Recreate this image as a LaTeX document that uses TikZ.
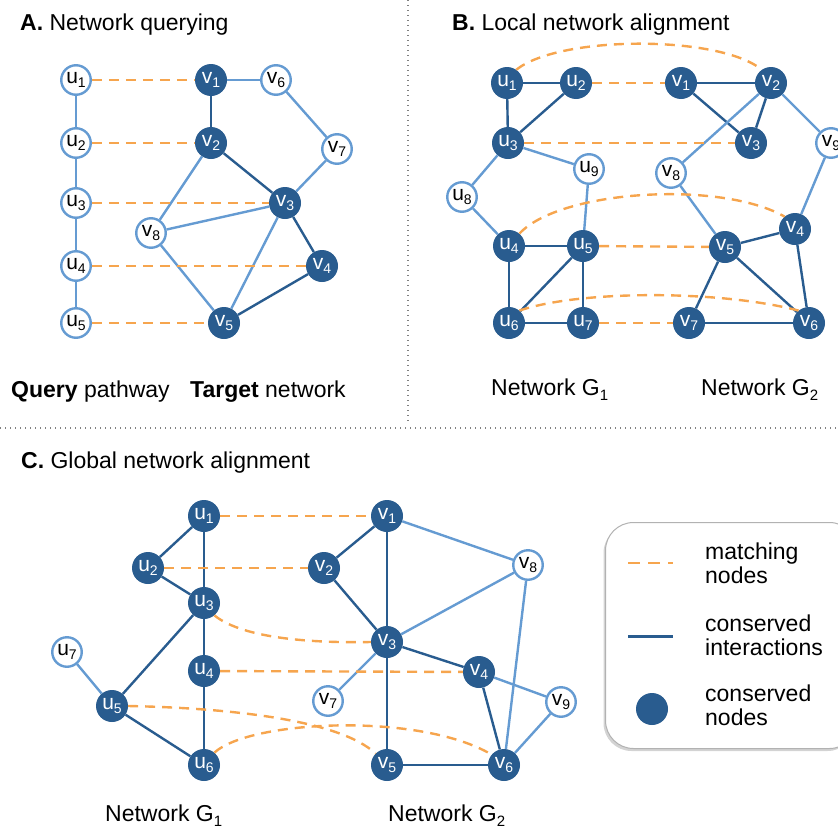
\documentclass[tikz,border=0pt]{standalone}
\usepackage{fontspec}
\setmainfont{Liberation Sans}
\usetikzlibrary{shadows}

\definecolor{dkblue}{HTML}{295C8F}
\definecolor{ltblue}{HTML}{659BD2}
\definecolor{orng}{HTML}{F6A54E}

\newcommand{\lbl}[2]{#1\raisebox{-4.5pt}{\fontsize{14}{14}\selectfont #2}}
\newcommand{\gsub}[1]{\raisebox{-5pt}{\fontsize{15}{15}\selectfont #1}}

\tikzset{
  cnode/.style={circle, fill=dkblue, minimum size=32pt, inner sep=0pt, text=white, font=\fontsize{21}{21}\selectfont},
  onode/.style={circle, fill=white, draw=ltblue, line width=2.4pt, minimum size=29.5pt, inner sep=0pt, text=black, font=\fontsize{21}{21}\selectfont},
  dk/.style={draw=dkblue, line width=2.4pt},
  lt/.style={draw=ltblue, line width=2.4pt},
  match/.style={draw=orng, line width=2.4pt, dash pattern=on 10pt off 7pt},
  sepline/.style={draw=gray, line width=1.2pt, dash pattern=on 1.2pt off 3.8pt},
  txt/.style={anchor=base west, inner sep=0pt, font=\fontsize{23}{25}\selectfont},
  legtxt/.style={anchor=west, align=left, inner sep=0pt, font=\fontsize{23}{24}\selectfont},
  legbox/.style={draw=gray!60, line width=1pt, rounded corners=28pt, fill=white,
    drop shadow={shadow xshift=-2pt, shadow yshift=-2.5pt, opacity=0.35}},
}

\begin{document}
\begin{tikzpicture}[x=1pt,y=-1pt]
\useasboundingbox (0,0) rectangle (838,830);
% ---- separators ----
\coordinate (sepT) at (408,0);
\coordinate (sepB) at (408,422);
\coordinate (sepL) at (0,428);
\coordinate (sepR) at (838,428);
\draw[sepline] (sepT) -- (sepB);
\draw[sepline] (sepL) -- (sepR);

% ---- A. network querying ----
\node[txt] (titA) at (20,30) {\textbf{A.} Network querying};
\foreach \l/\n/\x/\y in {v/1/211/80, v/2/211/143, v/3/285/203, v/4/322/266, v/5/224/323}
  \node[cnode] (a\l\n) at (\x,\y) {\lbl{\l}{\n}};
\foreach \l/\n/\x/\y in {u/1/76/80, u/2/76/143, u/3/76/203, u/4/76/266, u/5/76/323, v/6/276/80, v/7/337/149, v/8/151/233}
  \node[onode] (a\l\n) at (\x,\y) {\lbl{\l}{\n}};
\foreach \p/\q in {au1/au2, au2/au3, au3/au4, au4/au5, av1/av6, av6/av7, av7/av3, av2/av8, av8/av3, av8/av5, av3/av5}
  \draw[lt] (\p) -- (\q);
\foreach \p/\q in {av1/av2, av2/av3, av3/av4, av4/av5}
  \draw[dk] (\p) -- (\q);
\foreach \n in {1,...,5}
  \draw[match] (au\n) -- (av\n);
\node[txt] (qlab) at (11,397) {\textbf{Query} pathway};
\node[txt] (tlab) at (190,397) {\textbf{Target} network};

% ---- B. local network alignment ----
\node[txt] (titB) at (452,30) {\textbf{B.} Local network alignment};
\foreach \l/\n/\x/\y in {u/1/507/83, u/2/576/83, u/3/508/143, u/4/509/246, u/5/583/246, u/6/509/323, u/7/583/323,
    v/1/681/83, v/2/771/83, v/3/751/143, v/4/795/229, v/5/725/247, v/6/809/323, v/7/689/323}
  \node[cnode] (b\l\n) at (\x,\y) {\lbl{\l}{\n}};
\foreach \l/\n/\x/\y in {u/8/462/197, u/9/589/169, v/8/671/173, v/9/831/143}
  \node[onode] (b\l\n) at (\x,\y) {\lbl{\l}{\n}};
\foreach \p/\q in {bu1/bu2, bu1/bu3, bu2/bu3, bu4/bu5, bu4/bu6, bu5/bu6, bu5/bu7, bu6/bu7,
    bv1/bv2, bv1/bv3, bv2/bv3, bv5/bv4, bv5/bv7, bv5/bv6, bv4/bv6, bv7/bv6}
  \draw[dk] (\p) -- (\q);
\foreach \p/\q in {bu3/bu9, bu3/bu8, bu8/bu4, bu9/bu5, bv2/bv8, bv2/bv9, bv9/bv4, bv8/bv5}
  \draw[lt] (\p) -- (\q);
\foreach \p/\q in {bu2/bv1, bu3/bv3, bu5/bv5, bu7/bv7}
  \draw[match] (\p) -- (\q);
\draw[match] (bu1.55) .. controls (560,35) and (720,35) .. (bv2.125);
\draw[match] (bu4.50) .. controls (560,190) and (720,180) .. (bv4.130);
\draw[match] (bu6.50) .. controls (580,290) and (720,290) .. (bv6.130);
\node[txt] (bg1) at (491,395) {Network G\gsub{1}};
\node[txt] (bg2) at (701,395) {Network G\gsub{2}};

% ---- C. global network alignment ----
\node[txt] (titC) at (21,468) {\textbf{C.} Global network alignment};
\foreach \l/\n/\x/\y in {u/1/204/516, u/2/148/568, u/3/204/603, u/4/204/671, u/5/112/706, u/6/204/765,
    v/1/387/516, v/2/324/568, v/3/387/642, v/4/479/672, v/5/387/765, v/6/504/765}
  \node[cnode] (c\l\n) at (\x,\y) {\lbl{\l}{\n}};
\foreach \l/\n/\x/\y in {u/7/67/652, v/7/328/701, v/8/528/565, v/9/561/702}
  \node[onode] (c\l\n) at (\x,\y) {\lbl{\l}{\n}};
\foreach \p/\q in {cu1/cu2, cu1/cu3, cu2/cu3, cu3/cu4, cu3/cu5, cu4/cu6, cu5/cu6,
    cv1/cv2, cv1/cv3, cv2/cv3, cv3/cv4, cv3/cv5, cv4/cv6, cv5/cv6}
  \draw[dk] (\p) -- (\q);
\foreach \p/\q in {cu7/cu5, cv1/cv8, cv8/cv3, cv8/cv6, cv3/cv7, cv4/cv9, cv9/cv6}
  \draw[lt] (\p) -- (\q);
\foreach \p/\q in {cu1/cv1, cu2/cv2, cu4/cv4}
  \draw[match] (\p) -- (\q);
\draw[match] (cu3.-50) .. controls (245,640) and (320,643) .. (cv3.west);
\draw[match] (cu5.east) .. controls (230,708) and (340,720) .. (cv5.135);
\draw[match] (cu6.50) .. controls (250,720) and (420,712) .. (cv6.140);
\node[txt] (cg1) at (105,821) {Network G\gsub{1}};
\node[txt] (cg2) at (388,821) {Network G\gsub{2}};

% ---- legend ----
\node[legbox, minimum width=252pt, minimum height=226pt, anchor=north west, inner sep=0pt] (legend) at (605,522) {};
\coordinate (mA) at (628,563);
\coordinate (mB) at (673,563);
\draw[match, dash pattern=on 12pt off 8pt] (mA) -- (mB);
\coordinate (iA) at (628,636);
\coordinate (iB) at (673,636);
\draw[dk, line width=3pt] (iA) -- (iB);
\node[cnode] (nkey) at (652,709) {};
\node[legtxt] (tmatch) at (705,563) {matching\\nodes};
\node[legtxt] (tinter) at (705,635) {conserved\\interactions};
\node[legtxt] (tnodes) at (705,705) {conserved\\nodes};
\end{tikzpicture}
\end{document}
